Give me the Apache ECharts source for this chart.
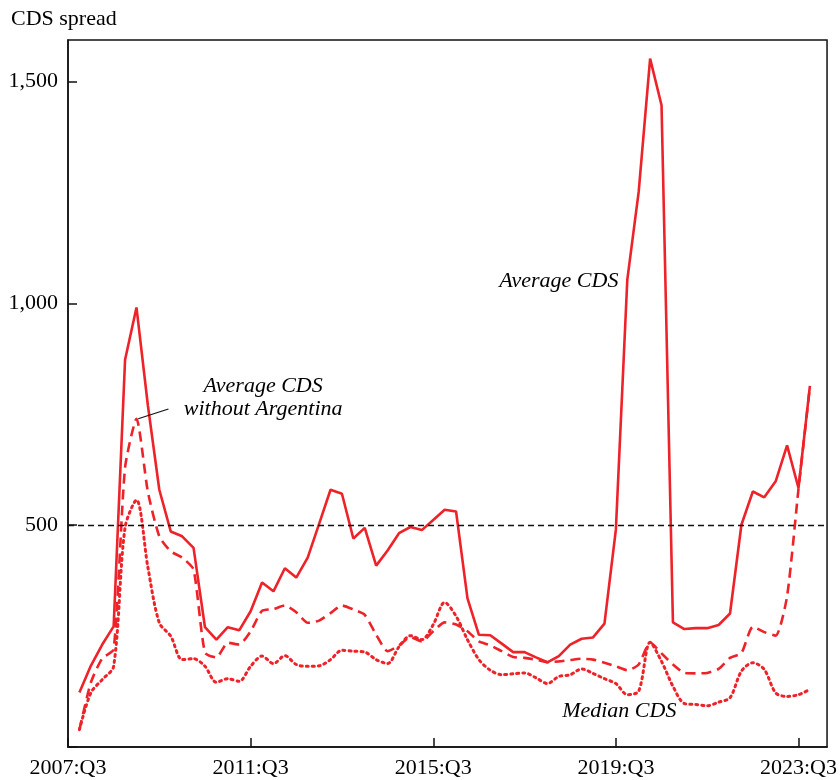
<!DOCTYPE html>
<html>
<head>
<meta charset="utf-8">
<script src="https://cdn.jsdelivr.net/npm/echarts@6/dist/echarts.min.js"></script>
<style>html,body{margin:0;padding:0;background:#fff}#c{width:840px;height:780px}</style>
</head>
<body>
<div id="c"></div>
<script>
// Quarter index 0 = 2007:Q3; data runs from index 1 (2007:Q4) to 65 (2023:Q4)
var startIndex = 1;
var xTickLabels = ['2007:Q3', '2011:Q3', '2015:Q3', '2019:Q3', '2023:Q3'];
var yTicks = [500, 1000, 1500];

var averageCDS = [123, 183, 231, 272, 873, 991, 770, 580, 486, 475, 449, 270, 242, 270, 263, 306,
  371, 351, 403, 382, 427, 503, 580, 571, 470, 494, 409, 443, 482, 496, 489, 512, 535, 531,
  335, 253, 252, 233, 214, 214, 202, 191, 205, 231, 244, 247, 278, 490, 1053, 1252, 1552, 1447,
  281, 266, 268, 268, 275, 301, 501, 576, 563, 599, 680, 584, 814];

var averageExArg = [39, 145, 200, 220, 630, 740, 575, 475, 441, 427, 400, 213, 202, 235, 231, 261,
  307, 311, 319, 304, 280, 285, 302, 319, 310, 298, 253, 216, 229, 248, 238, 261, 281, 276,
  261, 238, 229, 216, 203, 201, 197, 191, 193, 196, 199, 197, 190, 182, 173, 186, 236, 211,
  186, 167, 166, 167, 176, 201, 212, 271, 259, 251, 340, 582, 812];

var medianCDS = [39, 122, 152, 182, 495, 557, 405, 280, 250, 197, 199, 182, 146, 154, 148, 182,
  205, 188, 206, 186, 182, 183, 197, 218, 216, 214, 197, 188, 226, 251, 242, 276, 326, 295,
  242, 197, 173, 163, 165, 167, 156, 143, 159, 163, 176, 166, 154, 143, 118, 126, 236, 193,
  137, 98, 96, 93, 101, 111, 171, 190, 175, 122, 114, 118, 130];

function pairs(arr) { return arr.map(function (v, i) { return [i + startIndex, v]; }); }

var red = '#EE2229';
var serif = '"Liberation Serif", "DejaVu Serif", serif';

var chart = echarts.init(document.getElementById('c'), null, {renderer: 'canvas'});
chart.setOption({
  animation: false,
  backgroundColor: '#fff',
  title: {
    text: 'CDS spread', left: 6, top: 3,
    textStyle: {fontFamily: serif, fontSize: 22, fontWeight: 'normal', color: '#000'}
  },
  grid: {left: 68, right: 11, top: 40, bottom: 33, show: true, borderColor: '#111', borderWidth: 1.5},
  xAxis: {
    type: 'value', min: 0, max: 66.5, interval: 16,
    axisLine: {show: true, onZero: false, lineStyle: {color: '#111', width: 1.5}},
    axisTick: {show: true, inside: true, length: 9, lineStyle: {color: '#111', width: 1.5}},
    splitLine: {show: false},
    axisLabel: {
      showMaxLabel: false, margin: 10, color: '#000', fontFamily: serif, fontSize: 22,
      formatter: function (v) { var k = Math.round(v / 16); return xTickLabels[k] || ''; }
    }
  },
  yAxis: {
    type: 'value', min: 0, max: 1594, interval: 500,
    axisLine: {show: true, lineStyle: {color: '#111', width: 1.5}},
    axisTick: {show: true, inside: true, length: 9, lineStyle: {color: '#111', width: 1.5}},
    splitLine: {show: false},
    axisLabel: {
      margin: 10, color: '#000', fontFamily: serif, fontSize: 22, showMaxLabel: false,
      formatter: function (v) { return yTicks.indexOf(v) >= 0 ? (v >= 1000 ? (v / 1000 | 0) + ',' + String(v % 1000).padStart(3, '0') : String(v)) : ''; }
    }
  },
  series: [
    {
      name: 'Median CDS', type: 'line', data: pairs(medianCDS), symbol: 'none', smooth: 0.3,
      lineStyle: {color: red, width: 3, type: [2, 4], cap: 'round'}
    },
    {
      name: 'Average CDS without Argentina', type: 'line', data: pairs(averageExArg), symbol: 'none', smooth: 0.2,
      lineStyle: {color: red, width: 2.6, type: [10, 6]},
      markLine: {
        silent: true, symbol: 'none', label: {show: false},
        lineStyle: {color: '#111', width: 1.2, type: 'solid'},
        data: [[{coord: [8.8, 762]}, {coord: [6.15, 740]}]]
      }
    },
    {
      name: 'Average CDS', type: 'line', data: pairs(averageCDS), symbol: 'none',
      lineStyle: {color: red, width: 2.6},
      markLine: {
        silent: true, symbol: 'none', label: {show: false},
        lineStyle: {color: '#111', width: 1.3, type: [6, 4]},
        data: [{yAxis: 500}]
      }
    },
    {
      name: 'labels', type: 'scatter', symbolSize: 1, silent: true,
      itemStyle: {color: 'rgba(0,0,0,0)'},
      label: {
        show: true, position: 'inside', color: '#000', opacity: 1, fontFamily: serif, fontSize: 22,
        fontStyle: 'italic', lineHeight: 23, align: 'center', textBorderWidth: 0,
        formatter: function (p) { return p.data[2]; }
      },
      data: [
        [43.0, 1051, 'Average CDS'],
        [17.1, 788, 'Average CDS\nwithout Argentina'],
        [48.3, 80, 'Median CDS']
      ]
    }
  ]
});
</script>
</body>
</html>
